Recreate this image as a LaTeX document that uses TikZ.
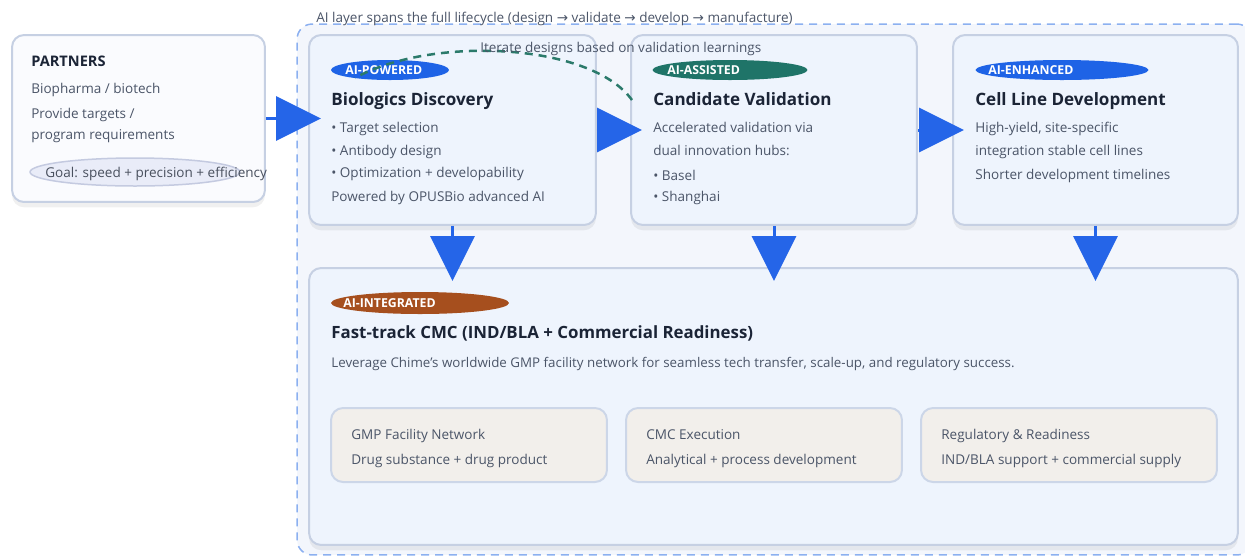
\documentclass[tikz,border=0pt]{standalone}
\usepackage{fontspec}
\setmainfont{Open Sans}
\newfontfamily\symf{DejaVu Sans}
\usetikzlibrary{arrows.meta,shapes.geometric,positioning,calc,shadows}
\definecolor{arrowblue}{RGB}{37,101,232}
\definecolor{boxfill}{RGB}{238,244,253}
\definecolor{boxline}{RGB}{198,208,227}
\definecolor{partfill}{RGB}{250,251,254}
\definecolor{layerfill}{RGB}{243,246,252}
\definecolor{layerline}{RGB}{140,176,240}
\definecolor{goalfill}{RGB}{233,236,248}
\definecolor{goalline}{RGB}{196,202,224}
\definecolor{subfill}{RGB}{242,239,235}
\definecolor{subline}{RGB}{204,214,232}
\definecolor{pwblue}{RGB}{30,99,230}
\definecolor{asteal}{RGB}{31,116,104}
\definecolor{inbrown}{RGB}{166,79,30}
\definecolor{itergreen}{RGB}{43,122,107}
\definecolor{titletxt}{RGB}{27,36,54}
\definecolor{bodytxt}{RGB}{75,85,104}

\begin{document}
\begin{tikzpicture}[x=0.02cm,y=-0.02cm,
    box/.style={draw=boxline, line width=0.04cm, rounded corners=0.24cm, fill=boxfill, inner sep=0,
      drop shadow={shadow xshift=0pt, shadow yshift=-3pt, opacity=0.06, fill=black}},
    sub/.style={draw=subline, line width=0.04cm, rounded corners=0.24cm, fill=subfill, inner sep=0, minimum height=1.48cm},
    pill/.style={ellipse, inner sep=0, minimum height=0.4cm},
    pilltxt/.style={anchor=west, inner sep=0, text=white, font=\fontsize{7}{8}\selectfont\bfseries},
    txt/.style={anchor=west, inner sep=0, text=bodytxt, text height=1.6ex, text depth=.45ex, font=\fontsize{7.7}{9}\selectfont},
    ttl/.style={anchor=west, inner sep=0, text=titletxt, text height=1.6ex, text depth=.45ex, font=\fontsize{9.7}{11}\selectfont\bfseries},
    arr/.style={-{Triangle[length=0.9cm,width=0.88cm]}, line width=0.06cm, draw=arrowblue, fill=arrowblue}
]
\useasboundingbox (0,0) rectangle (1245,559);

\node[draw=layerline, fill=layerfill, line width=0.03cm, dash pattern=on 0.16cm off 0.12cm, rounded corners=0.3cm,
  minimum width=19.1cm, minimum height=10.62cm, inner sep=0] (ailayer) at (774.5,289.5) {};
\node[txt] (ailabel) at (316,17) {AI layer spans the full lifecycle (design {\symf →} validate {\symf →} develop {\symf →} manufacture)};

\node[box, fill=partfill, minimum width=5.06cm, minimum height=3.34cm] (partners) at (138.5,118.5) {};
\node[ttl, font=\fontsize{8.3}{9}\selectfont\bfseries] (partt) at (31,61) {PARTNERS};
\node[txt] (part1) at (31,88) {Biopharma / biotech};
\node[txt] (part2) at (31,113) {Provide targets /};
\node[txt] (part3) at (31,134) {program requirements};
\node[ellipse, draw=goalline, fill=goalfill, line width=0.03cm, minimum width=4.2cm, minimum height=0.56cm, inner sep=0] (goal) at (135,172) {};
\node[txt, text=titletxt!80] (goalt) at (45,172) {Goal: speed + precision + efficiency};

\node[box, minimum width=5.74cm, minimum height=3.8cm] (disc) at (452.5,130) {};
\node[pill, fill=pwblue, minimum width=2.36cm] (discb) at (390,70) {};
\node[pilltxt] (discbt) at (345,70) {AI-POWERED};
\node[ttl] (disct) at (331,100) {Biologics Discovery};
\node[txt] (disc1) at (331,127) {\textbullet\ Target selection};
\node[txt] (disc2) at (331,150) {\textbullet\ Antibody design};
\node[txt] (disc3) at (331,172) {\textbullet\ Optimization + developability};
\node[txt] (disc4) at (331,196) {Powered by OPUSBio advanced AI};

\node[box, minimum width=5.72cm, minimum height=3.8cm] (valid) at (774,130) {};
\node[pill, fill=asteal, minimum width=3.1cm] (validb) at (730,70) {};
\node[pilltxt] (validbt) at (667,70) {AI-ASSISTED};
\node[ttl] (validt) at (653,100) {Candidate Validation};
\node[txt] (valid1) at (653,127) {Accelerated validation via};
\node[txt] (valid2) at (653,150) {dual innovation hubs:};
\node[txt] (valid3) at (653,175) {\textbullet\ Basel};
\node[txt] (valid4) at (653,196) {\textbullet\ Shanghai};

\node[box, minimum width=5.7cm, minimum height=3.8cm] (cell) at (1095.5,130) {};
\node[pill, fill=pwblue, minimum width=3.46cm] (cellb) at (1062,70) {};
\node[pilltxt] (cellbt) at (988,70) {AI-ENHANCED};
\node[ttl] (cellt) at (975,100) {Cell Line Development};
\node[txt] (cell1) at (975,127) {High-yield, site-specific};
\node[txt] (cell2) at (975,150) {integration stable cell lines};
\node[txt] (cell3) at (975,174) {Shorter development timelines};

\node[box, minimum width=18.58cm, minimum height=5.54cm] (cmc) at (773.5,406.5) {};
\node[pill, fill=inbrown, minimum width=3.56cm, minimum height=0.44cm] (cmcb) at (420,303) {};
\node[pilltxt] (cmcbt) at (343,303) {AI-INTEGRATED};
\node[ttl, font=\fontsize{9.6}{11}\selectfont\bfseries] (cmct) at (331,333) {Fast-track CMC (IND/BLA + Commercial Readiness)};
\node[txt, font=\fontsize{7.6}{9}\selectfont] (cmc1) at (331,362) {Leverage Chime's worldwide GMP facility network for seamless tech transfer, scale-up, and regulatory success.};

\node[sub, minimum width=5.52cm] (gmp) at (469,445) {};
\node[txt] (gmp1) at (351,434) {GMP Facility Network};
\node[txt] (gmp2) at (351,459) {Drug substance + drug product};
\node[sub, minimum width=5.52cm] (exec) at (764,445) {};
\node[txt] (exec1) at (646,434) {CMC Execution};
\node[txt] (exec2) at (646,459) {Analytical + process development};
\node[sub, minimum width=5.92cm] (reg) at (1069,445) {};
\node[txt] (reg1) at (941,434) {Regulatory \& Readiness};
\node[txt] (reg2) at (941,459) {IND/BLA support + commercial supply};

\draw[arr, shorten >=-0.26cm] (partners.east) -- (partners.east -| disc.west);
\draw[arr, shorten >=-0.24cm] (disc.east) -- (valid.west);
\draw[arr, shorten >=-0.24cm] (valid.east) -- (cell.west);
\draw[arr, shorten >=-0.28cm] (disc.south) -- (disc.south |- cmc.north);
\draw[arr, shorten >=-0.28cm] (valid.south) -- (valid.south |- cmc.north);
\draw[arr, shorten >=-0.28cm] (cell.south) -- (cell.south |- cmc.north);

\coordinate (itend) at (632,100);
\coordinate (itstart) at (355,78);
\draw[itergreen, line width=0.05cm, dash pattern=on 0.16cm off 0.12cm] (itend) .. controls (590,42) and (430,36) .. (itstart);
\node[txt] (iterlbl) at (480,47) {Iterate designs based on validation learnings};
\end{tikzpicture}
\end{document}
